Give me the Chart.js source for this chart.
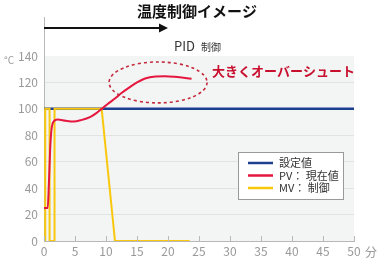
<!DOCTYPE html>
<html>
<head>
<meta charset="utf-8">
<script src="https://cdn.jsdelivr.net/npm/chart.js@4.4.1/dist/chart.umd.min.js"></script>
<style>
  html, body { margin: 0; padding: 0; background: #fff; }
  #wrap { width: 380px; height: 261px; }
</style>
</head>
<body>
<div id="wrap"><canvas id="chart"></canvas></div>
<script>
// values (time in minutes, temperature in °C / MV in %)
const setTime = [0, 50];
const setValue = [100, 100];

const pvTime = [0, 0.6, 0.8, 1.0, 1.2, 1.5, 2.2, 3.5, 4.8, 6, 7.5, 8.5, 9.3, 10.5, 11.5, 12.5, 13.6, 15, 16.3, 18, 19.5, 21, 22.5, 23.8];
const pvValue = [25, 25, 45, 70, 84, 90, 92, 91, 90.4, 91.5, 94, 97, 100, 104.5, 108, 112, 115.7, 120, 123, 124.5, 124.7, 124.3, 123.5, 122.7];

const mvTime = [0.2, 0.2, 0.9, 0.9, 1.7, 1.7, 9.3, 11.45, 23.5];
const mvValue = [0, 100, 100, 0, 0, 100, 100, 0, 0];

const xTicks = [0, 5, 10, 15, 20, 25, 30, 35, 40, 45, 50];
const yTicks = [0, 20, 40, 60, 80, 100, 120, 140];

const legendLabels = ["設定値", "PV： 現在値", "MV： 制御"];
const seriesColors = ["#1c3f8f", "#e5173f", "#f9c80e"];

const FONT = "'Noto Sans CJK JP', 'Noto Sans', sans-serif";

function toPoints(xs, ys) {
  return xs.map((x, i) => ({ x: x, y: ys[i] }));
}

const decor = {
  id: "decor",
  beforeDraw(chart) {
    const { ctx, chartArea: a } = chart;
    ctx.save();
    ctx.fillStyle = "#f3f5f5";
    ctx.fillRect(a.left, a.top, a.right - a.left, a.bottom - a.top);
    ctx.restore();
  },
  afterDraw(chart) {
    const { ctx, chartArea: a } = chart;
    const xs = chart.scales.x, ys = chart.scales.y;
    ctx.save();

    // y axis continues upward past the plot
    ctx.strokeStyle = "#b8b8b8";
    ctx.lineWidth = 1;
    ctx.beginPath();
    ctx.moveTo(a.left + 0.5, 17);
    ctx.lineTo(a.left + 0.5, a.top);
    ctx.stroke();

    // inside tick marks on x axis
    xTicks.forEach(t => {
      const px = Math.round(xs.getPixelForValue(t)) + 0.5;
      ctx.beginPath();
      ctx.moveTo(px, a.bottom);
      ctx.lineTo(px, a.bottom - 5);
      ctx.stroke();
    });

    // title
    ctx.fillStyle = "#111";
    ctx.font = "bold 15px " + FONT;
    ctx.textAlign = "center";
    ctx.textBaseline = "middle";
    ctx.fillText("温度制御イメージ", 197, 11);

    // PID arrow
    const ax0 = a.left, ax1 = xs.getPixelForValue(20);
    ctx.strokeStyle = "#111";
    ctx.fillStyle = "#111";
    ctx.lineWidth = 2;
    ctx.beginPath();
    ctx.moveTo(ax0, 28);
    ctx.lineTo(ax1 - 6, 28);
    ctx.stroke();
    ctx.beginPath();
    ctx.moveTo(ax1, 28);
    ctx.lineTo(ax1 - 9, 23.5);
    ctx.lineTo(ax1 - 9, 32.5);
    ctx.closePath();
    ctx.fill();

    // PID 制御
    ctx.fillStyle = "#333";
    ctx.textAlign = "left";
    ctx.font = "13px " + FONT;
    ctx.fillText("PID", 174, 46);
    ctx.font = "10px " + FONT;
    ctx.fillText("制御", 201, 47);

    // unit labels
    ctx.fillStyle = "#999";
    ctx.font = "10px " + FONT;
    ctx.fillText("°C", 4, 60);
    ctx.font = "12px " + FONT;
    ctx.fillText("分", 365, 252);

    // overshoot ellipse
    const cx = xs.getPixelForValue(18.4), cy = ys.getPixelForValue(120);
    const rx = xs.getPixelForValue(26.3) - cx;
    const ry = cy - ys.getPixelForValue(135.5);
    ctx.strokeStyle = "#c42a3c";
    ctx.lineWidth = 1.6;
    ctx.setLineDash([3, 3]);
    ctx.beginPath();
    ctx.ellipse(cx, cy, rx, ry, 0, 0, Math.PI * 2);
    ctx.stroke();
    ctx.setLineDash([]);

    ctx.fillStyle = "#c8102e";
    ctx.font = "bold 13px " + FONT;
    ctx.fillText("大きくオーバーシュート", 212, 71);

    // legend box
    const lx = 238, ly = 152, lw = 105, lh = 47;
    ctx.fillStyle = "#fff";
    ctx.fillRect(lx, ly, lw, lh);
    ctx.strokeStyle = "#9a9a9a";
    ctx.lineWidth = 1;
    ctx.strokeRect(lx + 0.5, ly + 0.5, lw, lh);
    legendLabels.forEach((lab, i) => {
      const yy = ly + 11 + i * 12.5;
      ctx.strokeStyle = seriesColors[i];
      ctx.lineWidth = 2.5;
      ctx.beginPath();
      ctx.moveTo(lx + 10, yy);
      ctx.lineTo(lx + 35, yy);
      ctx.stroke();
      ctx.fillStyle = "#333";
      ctx.font = "11px " + FONT;
      ctx.fillText(lab, lx + 41, yy);
    });

    ctx.restore();
  }
};

new Chart(document.getElementById("chart"), {
  type: "line",
  data: {
    datasets: [
      {
        label: legendLabels[1],
        data: toPoints(pvTime, pvValue),
        borderColor: seriesColors[1],
        borderWidth: 2,
        pointRadius: 0,
        cubicInterpolationMode: "monotone",
        order: 0
      },
      {
        label: legendLabels[2],
        data: toPoints(mvTime, mvValue),
        borderColor: seriesColors[2],
        borderWidth: 2,
        pointRadius: 0,
        tension: 0,
        order: 1
      },
      {
        label: legendLabels[0],
        data: toPoints(setTime, setValue),
        borderColor: seriesColors[0],
        borderWidth: 2.5,
        pointRadius: 0,
        tension: 0,
        order: 2
      }
    ]
  },
  options: {
    responsive: true,
    maintainAspectRatio: false,
    animation: false,
    layout: { padding: { top: 56, right: 26, left: 0, bottom: 0 } },
    plugins: {
      legend: { display: false },
      tooltip: { enabled: false }
    },
    scales: {
      x: {
        type: "linear",
        min: 0,
        max: 50,
        afterBuildTicks: s => { s.ticks = xTicks.map(v => ({ value: v })); },
        afterFit: s => { s.height = 20; },
        grid: { display: true, drawOnChartArea: false, drawTicks: false },
        border: { color: "#b8b8b8" },
        ticks: { color: "#999", font: { family: FONT, size: 12 }, padding: 3, maxRotation: 0 }
      },
      y: {
        min: 0,
        max: 140,
        afterBuildTicks: s => { s.ticks = yTicks.map(v => ({ value: v })); },
        afterFit: s => { s.width = 44; },
        grid: {
          color: c => (c.tick && c.tick.value === 140 ? "rgba(0,0,0,0)" : "#e1e3e3"),
          drawTicks: false
        },
        border: { color: "#b8b8b8" },
        ticks: { color: "#999", font: { family: FONT, size: 12 }, padding: 6 }
      }
    }
  },
  plugins: [decor]
});
</script>
</body>
</html>
